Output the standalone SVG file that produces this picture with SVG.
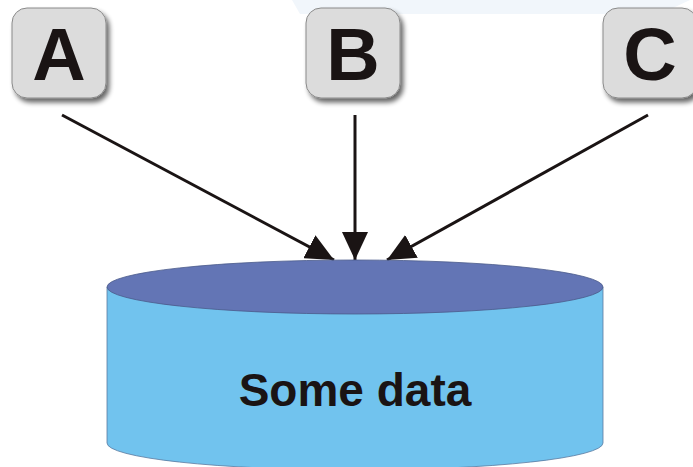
<svg xmlns="http://www.w3.org/2000/svg" width="693" height="467" viewBox="0 0 693 467">
<style>
.box{fill:#dcdcdc;stroke:#8a8a8a;stroke-width:1}
.lbl{font-family:"Liberation Sans",Arial,sans-serif;font-weight:bold;font-size:74px;fill:#1a1414;text-anchor:middle}
.conn{stroke:#1a1414;stroke-width:3;fill:none}
</style>
<defs>
<filter id="sh" x="-20%" y="-20%" width="150%" height="150%">
<feGaussianBlur in="SourceAlpha" stdDeviation="2.5"/>
<feOffset dx="3" dy="4"/>
<feComponentTransfer><feFuncA type="linear" slope="0.6"/></feComponentTransfer>
<feMerge><feMergeNode/><feMergeNode in="SourceGraphic"/></feMerge>
</filter>
<marker id="arr" viewBox="0 0 10 10" refX="10" refY="5" markerWidth="9" markerHeight="9" markerUnits="userSpaceOnUse" orient="auto" style="overflow:visible">
<path d="M0,0 L10,5 L0,10 z" fill="#1a1414" transform="scale(1)"/>
</marker>
<marker id="ah" markerWidth="30" markerHeight="26" refX="28" refY="13" orient="auto" markerUnits="userSpaceOnUse">
<path d="M0,0 L28,13 L0,26 z" fill="#1a1414"/>
</marker>
</defs>
<rect x="0" y="0" width="693" height="467" fill="#ffffff"/>
<path d="M292,0 L690,0 L660,14 L300,14 z" fill="#f1f6fb"/>
<g id="connectors">
<line class="conn" x1="62" y1="115" x2="334" y2="260" marker-end="url(#ah)"/>
<line class="conn" x1="355" y1="115" x2="355" y2="260" marker-end="url(#ah)"/>
<line class="conn" x1="648" y1="115" x2="387" y2="260" marker-end="url(#ah)"/>
</g>
<g id="nodeA">
<rect class="box" x="12" y="8" width="94" height="90" rx="15" filter="url(#sh)"/>
<text class="lbl" x="59" y="80">A</text>
</g>
<g id="nodeB">
<rect class="box" x="306" y="8" width="94" height="90" rx="15" filter="url(#sh)"/>
<text class="lbl" x="353" y="80">B</text>
</g>
<g id="nodeC">
<rect class="box" x="603" y="8" width="94" height="90" rx="15" filter="url(#sh)"/>
<text class="lbl" x="650" y="80">C</text>
</g>
<g id="data">
<path d="M107,287 L107,443 A248,27 0 0 0 603,443 L603,287 z" fill="#71c3ee" stroke="#5a7aa0" stroke-width="0.8"/>
<ellipse cx="355" cy="287" rx="248" ry="27" fill="#6375b5" stroke="#4a5a8a" stroke-width="0.8"/>
<text x="355" y="406" font-family="Liberation Sans,Arial,sans-serif" font-weight="bold" font-size="46" fill="#1a1414" text-anchor="middle">Some data</text>
</g>
</svg>
